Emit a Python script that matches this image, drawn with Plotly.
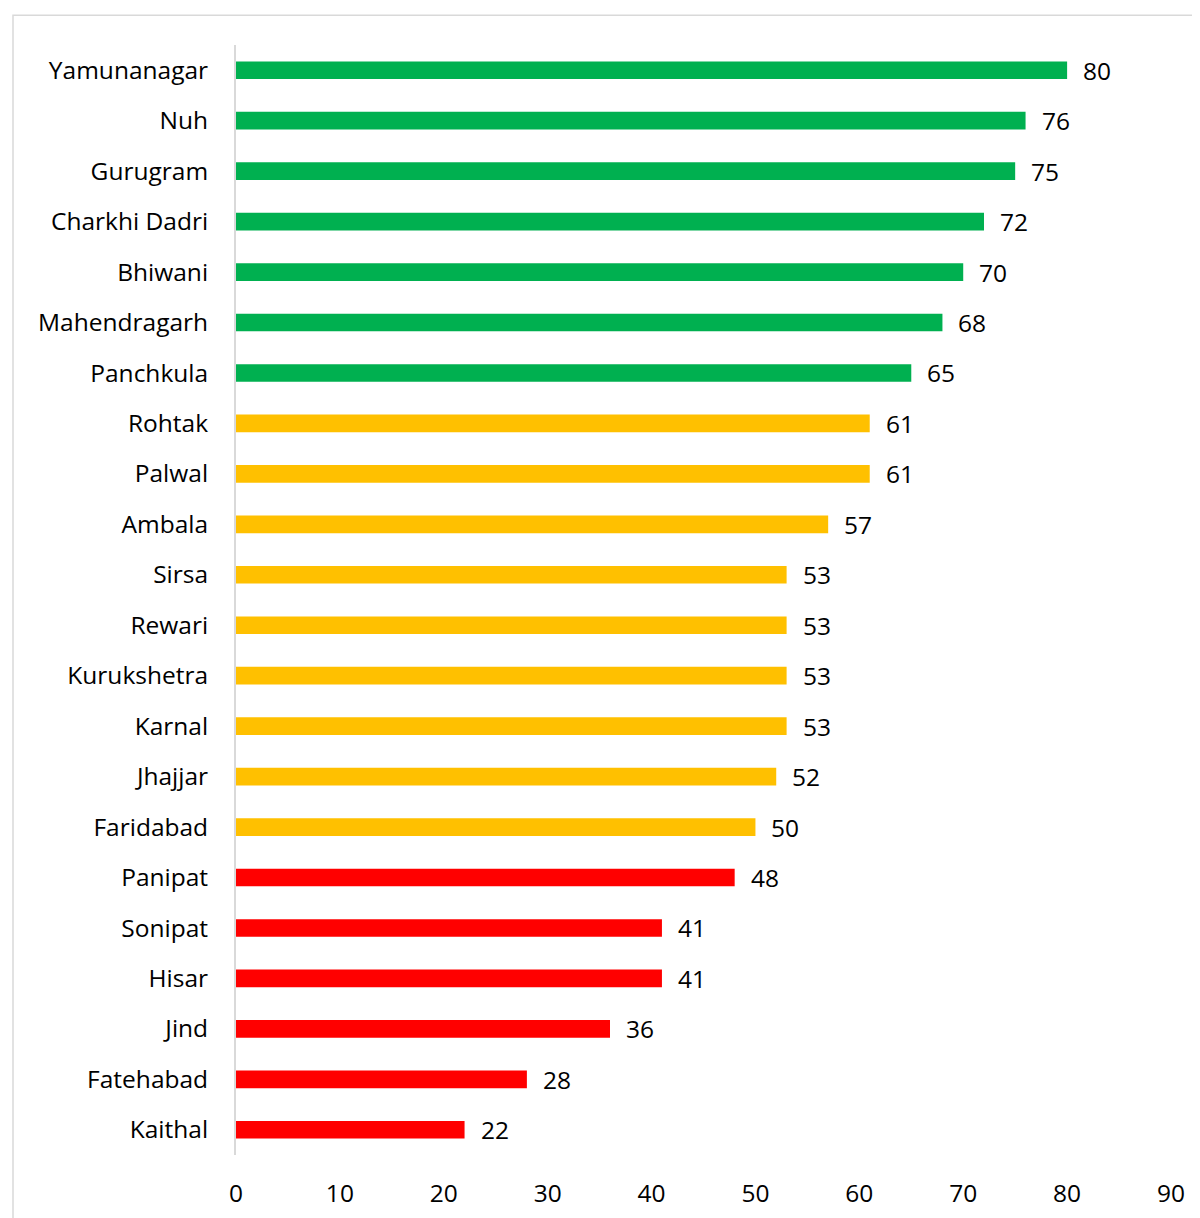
import plotly.graph_objects as go

districts = ["Yamunanagar", "Nuh", "Gurugram", "Charkhi Dadri", "Bhiwani", "Mahendragarh",
             "Panchkula", "Rohtak", "Palwal", "Ambala", "Sirsa", "Rewari", "Kurukshetra",
             "Karnal", "Jhajjar", "Faridabad", "Panipat", "Sonipat", "Hisar", "Jind",
             "Fatehabad", "Kaithal"]
scores = [80, 76, 75, 72, 70, 68, 65, 61, 61, 57, 53, 53, 53, 53, 52, 50, 48, 41, 41, 36, 28, 22]
x_ticks = [0, 10, 20, 30, 40, 50, 60, 70, 80, 90]

GREEN, GOLD, RED = "#00B050", "#FFC000", "#FF0000"
colors = [GREEN if v >= 65 else (GOLD if v >= 50 else RED) for v in scores]

FONT = "Open Sans"
FS = 24.5

fig = go.Figure(go.Bar(
    x=scores, y=districts, orientation="h",
    marker=dict(color=colors, line=dict(width=0)),
    width=0.35, hoverinfo="x+y",
))

for d, v in zip(districts, scores):
    fig.add_annotation(x=v, y=d, text=str(v), showarrow=False, xanchor="left",
                       xshift=14, yshift=0, font=dict(family=FONT, size=FS, color="#000000"))

fig.update_layout(
    width=1200, height=1218,
    margin=dict(l=228, r=37, t=37, b=71),
    plot_bgcolor="white", paper_bgcolor="white",
    showlegend=False,
    font=dict(family=FONT, size=FS, color="#000000"),
    xaxis=dict(range=[0, 90], tickvals=x_ticks, showgrid=False, zeroline=False,
               showline=False, ticks="", tickfont=dict(size=FS), ticklabelstandoff=21),
    yaxis=dict(categoryorder="array", categoryarray=districts[::-1], autorange=False,
               range=[-0.5, len(districts) - 0.5],
               showgrid=False, showline=True, linecolor="#D9D9D9", linewidth=2,
               ticks="", tickfont=dict(size=FS), ticklabelstandoff=21),
    shapes=[dict(type="rect", xref="paper", yref="paper", x0=-0.2385, x1=1.2,
                 y0=-0.2, y1=1.0268, line=dict(color="#D9D9D9", width=1.5),
                 fillcolor="rgba(0,0,0,0)", layer="below")],
)

fig.write_html("out.html")
